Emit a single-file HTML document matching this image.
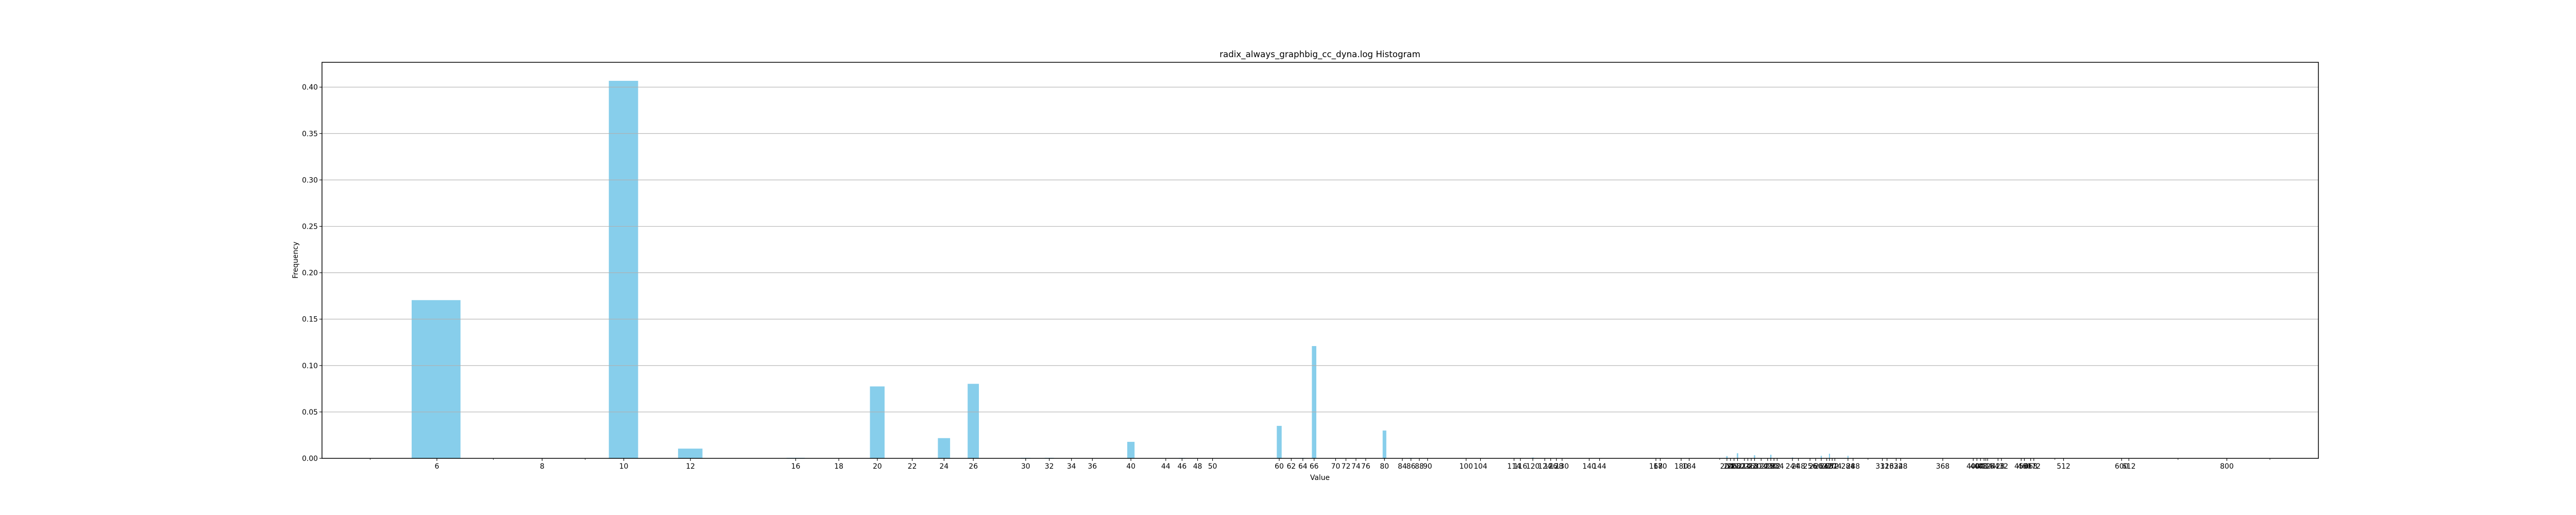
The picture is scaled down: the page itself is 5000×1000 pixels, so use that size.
<!DOCTYPE html>
<html><head><meta charset="utf-8"><style>
html,body{margin:0;padding:0;background:#fff;}
svg{display:block;font-family:"DejaVu Sans","Liberation Sans",sans-serif;}
</style></head><body>
<svg id="chart" width="5000" height="1000" viewBox="0 0 5000 1000" xmlns="http://www.w3.org/2000/svg">
<rect x="0" y="0" width="5000" height="1000" fill="#fff"/>
<g id="bars"></g>
<g id="grid"></g>
<g id="xaxis"></g>
<g id="yaxis"></g>
<rect x="625" y="121" width="3875" height="769" fill="none" stroke="#000" stroke-width="1.5"/>
<text x="2562" y="111" text-anchor="middle" font-size="16.7">radix_always_graphbig_cc_dyna.log Histogram</text>
<text x="2562" y="932" text-anchor="middle" font-size="13.9">Value</text>
<text x="0" y="0" transform="translate(578,505) rotate(-90)" text-anchor="middle" font-size="13.9">Frequency</text>
</svg>
<script>
const values = [6,8,10,12,16,18,20,22,24,26,30,32,34,36,40,44,46,48,50,60,62,64,66,70,72,74,76,80,84,86,88,90,100,104,114,116,120,124,126,128,130,140,144,168,170,180,184,204,206,208,210,214,216,218,220,224,228,230,232,234,244,248,256,260,264,268,270,272,274,284,288,312,316,324,328,368,400,404,408,412,414,416,428,432,456,460,468,472,512,600,612,800];
const freqs = [0.1705,0.0003,0.4068,0.0105,0.0006,0.0002,0.0775,0.0002,0.0218,0.0803,0.0006,0.0006,0.0002,0.0002,0.0178,0.0002,0.0005,0.0002,0.0002,0.035,0.0002,0.0005,0.121,0.0002,0.0002,0.0002,0.0002,0.030,0.0002,0.0005,0.0002,0.0002,0.0002,0.0002,0.0002,0.0002,0.0008,0.0002,0.0002,0.0002,0.0002,0.0002,0.0002,0.0002,0.0002,0.0002,0.0002,0.0024,0.0002,0.0002,0.0055,0.0002,0.0002,0.0002,0.0033,0.0002,0.0002,0.0039,0.0002,0.0002,0.001,0.0002,0.0002,0.0002,0.0028,0.0002,0.005,0.0002,0.0002,0.0028,0.0002,0.0002,0.0002,0.0002,0.0002,0.0002,0.0002,0.0002,0.0002,0.0002,0.0002,0.0002,0.0002,0.0002,0.0002,0.0002,0.0002,0.0002,0.0002,0.0002,0.0002,0.0002];
const yTicks = [0,0.05,0.10,0.15,0.20,0.25,0.30,0.35,0.40];
const barWidth = 0.8;

const NS = "http://www.w3.org/2000/svg";
const L = 625, R = 4500, T = 121, B = 890;
const PXDEC = 1635, X6 = 848;
const logMin = Math.log10(6) - (X6 - L) / PXDEC;
const logMax = Math.log10(6) + (R - X6) / PXDEC;
const yMax = (B - T) / 1802;
function xs(v){ return L + (Math.log10(v) - logMin) / (logMax - logMin) * (R - L); }
function ys(v){ return B - v / yMax * (B - T); }
function mk(tag, attrs, parent){ const e = document.createElementNS(NS, tag); for (const k in attrs) e.setAttribute(k, attrs[k]); parent.appendChild(e); return e; }

const gBars = document.getElementById('bars');
values.forEach((v, i) => {
  const x0 = xs(v - barWidth/2), x1 = xs(v + barWidth/2);
  const r = mk('rect', {x: x0, y: ys(freqs[i]), width: x1 - x0, height: B - ys(freqs[i]), fill: '#87CEEB'}, gBars);
  
  
});

const gGrid = document.getElementById('grid');
const gY = document.getElementById('yaxis');
yTicks.forEach(t => {
  const y = ys(t);
  const gl = mk('line', {x1: L, x2: R, y1: y, y2: y, stroke: '#b0b0b0', 'stroke-width': 1.1}, gGrid);
  
  
  const tk = mk('line', {x1: L - 5, x2: L, y1: y, y2: y, stroke: '#000', 'stroke-width': 1.1}, gY);
  
  
  const lb = mk('text', {x: L - 8, y: y + 5, 'text-anchor': 'end', 'font-size': 13.9}, gY);
  lb.textContent = t.toFixed(2);
  
  
});

const gX = document.getElementById('xaxis');
for (let d = 1; d <= 1000; d *= 10) {
  for (let m = 2; m <= 9; m++) {
    const v = m * d;
    if (v < Math.pow(10, logMin) || v > Math.pow(10, logMax)) continue;
    const x = xs(v);
    const mt = mk('line', {x1: x, x2: x, y1: B, y2: B + 3, stroke: '#000', 'stroke-width': 0.8}, gX);
    
    
  }
}
values.forEach(v => {
  const x = xs(v);
  const tk = mk('line', {x1: x, x2: x, y1: B, y2: B + 5, stroke: '#000', 'stroke-width': 1.1}, gX);
  
  
  const lb = mk('text', {x: x, y: B + 20, 'text-anchor': 'middle', 'font-size': 13.9}, gX);
  lb.textContent = String(v);
  
  
});
</script>
</body></html>
